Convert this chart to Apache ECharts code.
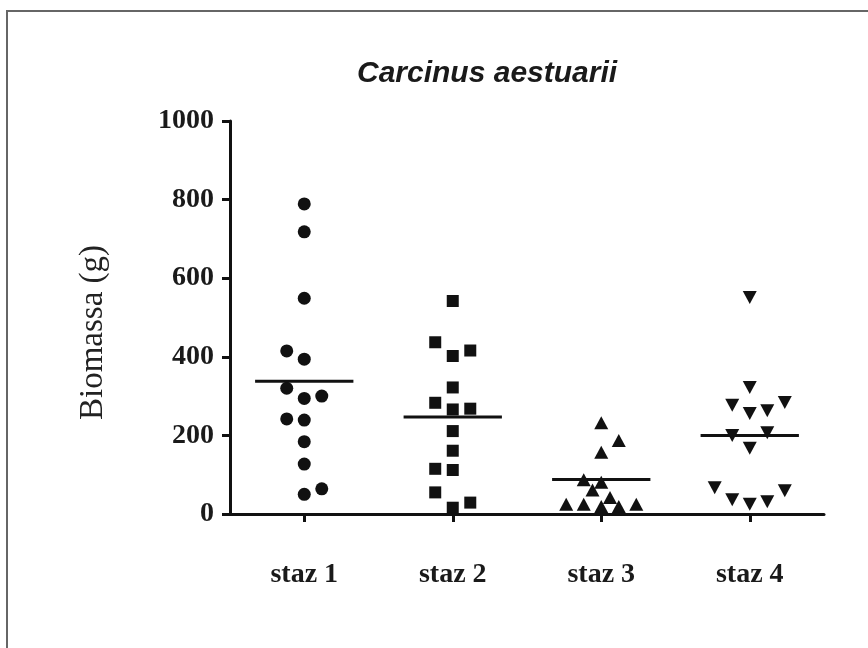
<!DOCTYPE html>
<html>
<head>
<meta charset="utf-8">
<script src="https://cdn.jsdelivr.net/npm/echarts@6/dist/echarts.min.js"></script>
<style>html,body{margin:0;padding:0;background:#fff;}#c{width:868px;height:648px;}</style>
</head>
<body>
<div id="c"></div>
<script>
const categories = ['staz 1', 'staz 2', 'staz 3', 'staz 4'];
const yTicks = [0, 200, 400, 600, 800, 1000];

const staz1Values = [789, 718, 549, 415, 394, 320, 294, 300, 242, 239, 184, 127, 50, 64];
const staz1Jitter = [0, 0, 0, -1, 0, -1, 0, 1, -1, 0, 0, 0, 0, 1];

const staz2Values = [542, 437, 402, 416, 322, 283, 266, 268, 211, 161, 115, 112, 55, 16, 29];
const staz2Jitter = [0, -1, 0, 1, 0, -1, 0, 1, 0, 0, -1, 0, -1, 0, 1];

const staz3Values = [232, 187, 157, 87, 81, 61, 42, 25, 25, 19, 19, 25];
const staz3Jitter = [0, 1, 0, -1, 0, -0.5, 0.5, -2, -1, 0, 1, 2];

const staz4Values = [551, 322, 277, 256, 263, 284, 200, 207, 167, 67, 36, 25, 31, 59];
const staz4Jitter = [0, 0, -1, 0, 1, 2, -1, 1, 0, -2, -1, 0, 1, 2];

const groupMeans = [338, 247, 88, 200];

const JITTER_STEP = 0.118;
function pts(group, vals, jit) {
  return vals.map((v, i) => [group + jit[i] * JITTER_STEP, v]);
}

const chart = echarts.init(document.getElementById('c'), null, {renderer: 'canvas'});
const ink = '#111';
const serif = '"Liberation Serif", "Times New Roman", serif';
const pointStyle = {color: ink, opacity: 1};

chart.setOption({
  animation: false,
  backgroundColor: '#fff',
  graphic: [{
    type: 'rect', z: -10, silent: true,
    shape: {x: 7, y: 11, width: 900, height: 700},
    style: {fill: 'none', stroke: '#666', lineWidth: 2}
  }],
  title: {
    text: 'Carcinus aestuarii',
    left: 352, top: 54,
    textStyle: {fontFamily: '"Liberation Sans", Arial, sans-serif', fontStyle: 'italic', fontWeight: 'bold', fontSize: 30, color: '#1a1a1a'}
  },
  grid: {left: 230, right: 44, top: 121, bottom: 134, containLabel: false},
  xAxis: [{
    type: 'category',
    data: categories,
    boundaryGap: true,
    axisLine: {show: true, lineStyle: {color: ink, width: 3}},
    axisTick: {show: true, alignWithLabel: true, length: 8, inside: false, lineStyle: {color: ink, width: 3}},
    axisLabel: {margin: 47, fontFamily: serif, fontWeight: 'bold', fontSize: 28, color: '#1a1a1a'},
    splitLine: {show: false}
  }, {
    type: 'value', min: 0.5, max: 4.5, show: false
  }],
  yAxis: {
    type: 'value', min: yTicks[0], max: yTicks[yTicks.length - 1], interval: 200,
    axisLine: {show: true, lineStyle: {color: ink, width: 3}},
    axisTick: {show: true, length: 8, inside: false, lineStyle: {color: ink, width: 3}},
    axisLabel: {margin: 16, fontFamily: serif, fontWeight: 'bold', fontSize: 28, color: '#1a1a1a', formatter: v => String(v)},
    splitLine: {show: false},
    name: 'Biomassa (g)', nameLocation: 'middle', nameRotate: 90, nameGap: 120,
    nameTextStyle: {fontFamily: serif, fontSize: 33, color: '#222', padding: [0, 30, 0, 0]}
  },
  series: [
    {type: 'scatter', xAxisIndex: 1, symbol: 'circle', symbolSize: 13, itemStyle: pointStyle, data: pts(1, staz1Values, staz1Jitter)},
    {type: 'scatter', xAxisIndex: 1, symbol: 'rect', symbolSize: 12, itemStyle: pointStyle, data: pts(2, staz2Values, staz2Jitter)},
    {type: 'scatter', xAxisIndex: 1, symbol: 'triangle', symbolSize: [14, 13], itemStyle: pointStyle, data: pts(3, staz3Values, staz3Jitter)},
    {type: 'scatter', xAxisIndex: 1, symbol: 'triangle', symbolRotate: 180, symbolSize: [14, 13], itemStyle: pointStyle, data: pts(4, staz4Values, staz4Jitter)},
    {
      type: 'custom', xAxisIndex: 0, z: 5,
      data: groupMeans.map((m, i) => [i, m]),
      renderItem: function (params, api) {
        const c = api.coord([api.value(0), api.value(1)]);
        const band = api.size([1, 0])[0];
        const hw = band * 0.331;
        return {
          type: 'line',
          shape: {x1: c[0] - hw, y1: c[1], x2: c[0] + hw, y2: c[1]},
          style: {stroke: ink, lineWidth: 3}
        };
      }
    }
  ]
});
</script>
</body>
</html>
